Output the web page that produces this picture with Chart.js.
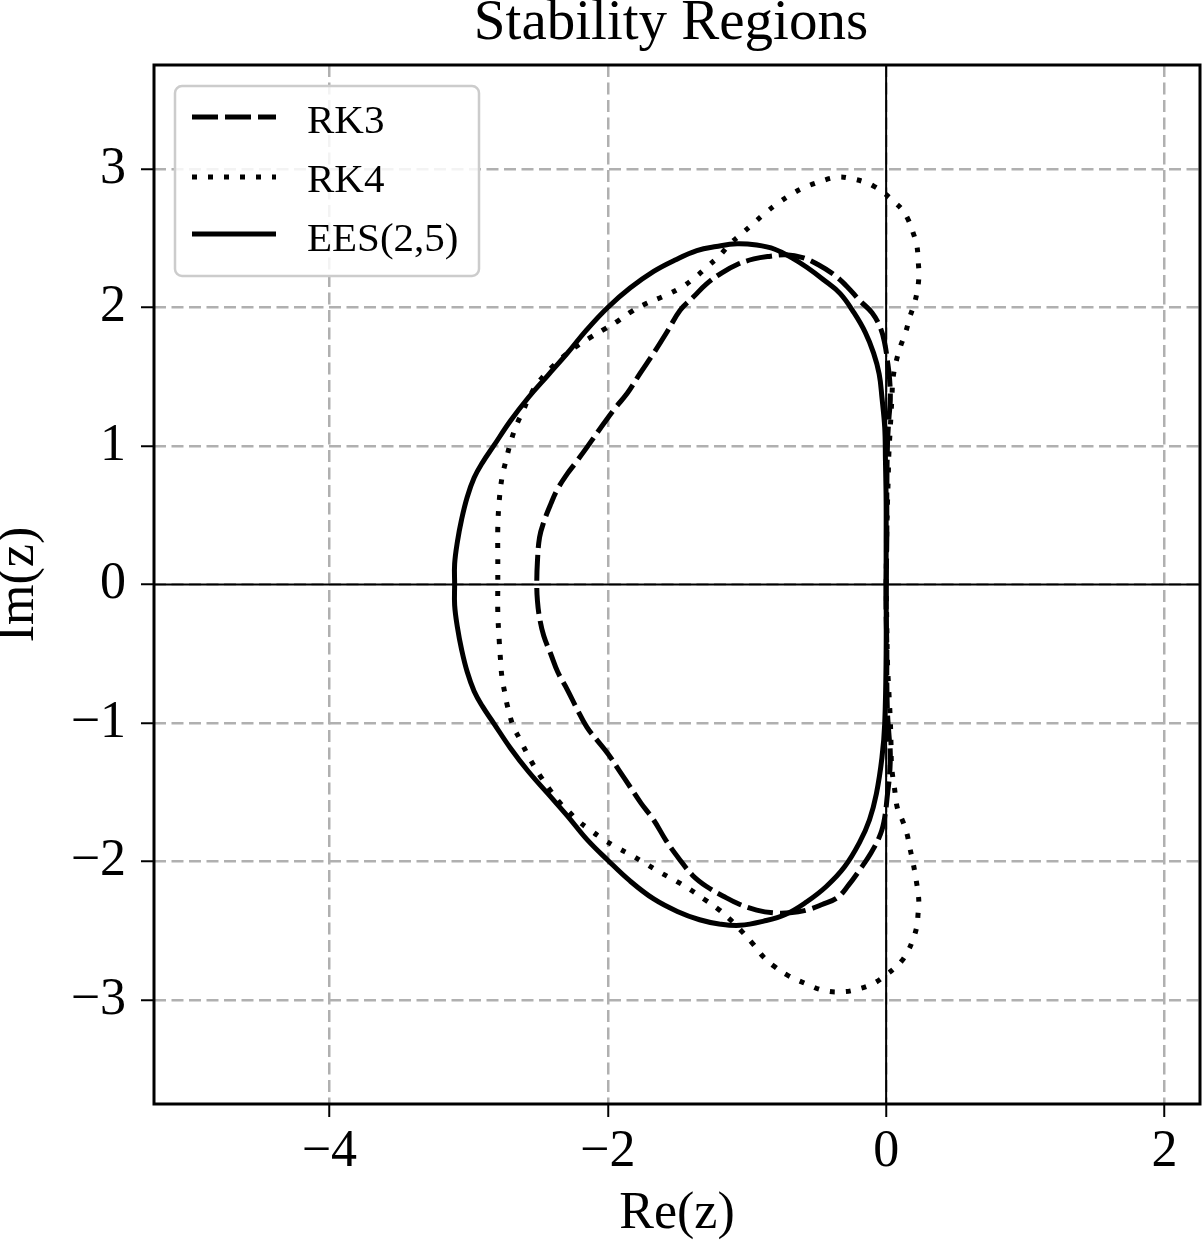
<!DOCTYPE html>
<html><head><meta charset="utf-8">
<script src="https://cdn.jsdelivr.net/npm/chart.js@4/dist/chart.umd.min.js"></script>
<style>html,body{margin:0;padding:0;background:#fff;} canvas{display:block;}</style>
</head><body>
<canvas id="c" width="1202" height="1242"></canvas>
<script>
const TITLE = 'Stability Regions';
const X_LABEL = 'Re(z)';
const Y_LABEL = 'Im(z)';
const SERIES_NAMES = ['RK3', 'RK4', 'EES(2,5)'];
const X_TICKS = [-4, -2, 0, 2];
const Y_TICKS = [-3, -2, -1, 0, 1, 2, 3];
const X_RANGE = [-5.26, 2.255];
const Y_RANGE = [-3.75, 3.75];

// [Re(z), Im(z)]
const rk3Points = [
  [0,0],[0.005,0.35],[0.005,0.66],[0.01,1.02],[0.02,1.2],[0.03,1.33],[0.025,1.48],[0.01,1.61],[-0.01,1.74],[-0.04,1.85],
  [-0.10,1.96],[-0.19,2.05],[-0.28,2.15],[-0.38,2.24],[-0.49,2.31],[-0.60,2.36],[-0.72,2.38],[-0.83,2.37],[-0.95,2.35],[-1.07,2.31],
  [-1.18,2.25],[-1.29,2.17],[-1.38,2.08],[-1.48,1.98],[-1.57,1.83],[-1.67,1.67],[-1.77,1.52],[-1.86,1.38],[-1.95,1.27],[-2.03,1.16],
  [-2.15,0.99],[-2.23,0.88],[-2.29,0.80],[-2.36,0.69],[-2.41,0.58],[-2.46,0.45],[-2.49,0.34],[-2.505,0.17],[-2.51,0],
  [-2.505,-0.12],[-2.49,-0.24],[-2.46,-0.37],[-2.41,-0.50],[-2.36,-0.63],[-2.29,-0.76],[-2.22,-0.90],[-2.15,-1.03],[-2.08,-1.12],[-2.00,-1.22],
  [-1.92,-1.34],[-1.84,-1.46],[-1.76,-1.58],[-1.67,-1.70],[-1.58,-1.85],[-1.48,-1.99],[-1.39,-2.10],[-1.29,-2.18],[-1.17,-2.25],[-1.05,-2.31],
  [-0.93,-2.35],[-0.81,-2.37],[-0.69,-2.37],[-0.57,-2.35],[-0.46,-2.31],[-0.35,-2.26],[-0.27,-2.17],[-0.19,-2.06],[-0.11,-1.94],[-0.04,-1.80],
  [-0.01,-1.68],[0.01,-1.51],[0.025,-1.37],[0.03,-1.22],[0.02,-1.08],[0.01,-0.93],[0.005,-0.7],[0.005,-0.45],[0,-0.2],[0,0]
];

const rk4Points = [
  [0,0],[0.002,0.2],[0.005,0.4],[0.01,0.6],[0.015,0.77],[0.02,0.95],[0.03,1.13],[0.04,1.32],[0.05,1.49],[0.07,1.60],
  [0.10,1.71],[0.14,1.82],[0.17,1.93],[0.20,2.02],[0.22,2.10],[0.235,2.22],[0.23,2.34],[0.22,2.45],[0.19,2.55],[0.16,2.63],
  [0.12,2.70],[0.05,2.77],[-0.02,2.83],[-0.08,2.87],[-0.14,2.90],[-0.25,2.93],[-0.35,2.94],[-0.47,2.91],[-0.60,2.86],[-0.69,2.81],
  [-0.78,2.75],[-0.87,2.68],[-0.96,2.60],[-1.04,2.53],[-1.12,2.46],[-1.20,2.37],[-1.29,2.29],[-1.38,2.21],[-1.48,2.14],[-1.60,2.08],
  [-1.72,2.03],[-1.83,1.97],[-1.93,1.90],[-2.03,1.84],[-2.13,1.78],[-2.21,1.73],[-2.29,1.67],[-2.40,1.57],[-2.49,1.47],[-2.56,1.36],
  [-2.61,1.25],[-2.66,1.14],[-2.70,1.02],[-2.73,0.90],[-2.76,0.77],[-2.78,0.60],[-2.79,0.41],[-2.79,0.2],[-2.79,0],
  [-2.79,-0.2],[-2.78,-0.40],[-2.77,-0.55],[-2.76,-0.67],[-2.74,-0.78],[-2.72,-0.88],[-2.68,-1.02],[-2.63,-1.12],[-2.58,-1.22],[-2.53,-1.31],
  [-2.48,-1.39],[-2.41,-1.49],[-2.34,-1.58],[-2.28,-1.64],[-2.22,-1.70],[-2.13,-1.77],[-2.03,-1.84],[-1.93,-1.90],[-1.82,-1.96],[-1.72,-2.02],
  [-1.62,-2.08],[-1.51,-2.14],[-1.41,-2.20],[-1.31,-2.27],[-1.21,-2.34],[-1.13,-2.41],[-1.05,-2.49],[-0.96,-2.59],[-0.88,-2.69],[-0.80,-2.76],
  [-0.71,-2.82],[-0.58,-2.88],[-0.45,-2.93],[-0.31,-2.94],[-0.20,-2.92],[-0.09,-2.88],[0.01,-2.81],[0.06,-2.77],[0.11,-2.72],[0.16,-2.64],
  [0.19,-2.57],[0.22,-2.47],[0.23,-2.37],[0.235,-2.30],[0.23,-2.23],[0.21,-2.10],[0.19,-1.99],[0.17,-1.90],[0.15,-1.80],[0.12,-1.71],
  [0.08,-1.61],[0.06,-1.47],[0.04,-1.32],[0.035,-1.15],[0.03,-0.98],[0.02,-0.78],[0.01,-0.57],[0.005,-0.3],[0,0]
];

const eesPoints = [
  [0,0],[0,0.3],[0,0.6],[-0.005,0.9],[-0.01,1.13],[-0.03,1.35],[-0.05,1.52],[-0.09,1.67],[-0.15,1.82],[-0.23,1.96],
  [-0.33,2.10],[-0.45,2.20],[-0.57,2.29],[-0.68,2.36],[-0.80,2.42],[-0.93,2.45],[-1.07,2.46],[-1.22,2.44],[-1.36,2.41],[-1.52,2.34],
  [-1.67,2.26],[-1.84,2.14],[-2.00,2.00],[-2.15,1.84],[-2.29,1.67],[-2.43,1.51],[-2.57,1.35],[-2.70,1.18],[-2.82,1.00],[-2.90,0.88],
  [-2.96,0.77],[-3.01,0.63],[-3.05,0.47],[-3.08,0.31],[-3.10,0.15],[-3.10,0],
  [-3.10,-0.15],[-3.08,-0.31],[-3.05,-0.47],[-3.01,-0.63],[-2.96,-0.77],[-2.90,-0.88],[-2.82,-1.00],[-2.70,-1.18],[-2.57,-1.35],[-2.43,-1.51],
  [-2.29,-1.67],[-2.15,-1.84],[-2.00,-1.99],[-1.84,-2.14],[-1.67,-2.27],[-1.50,-2.36],[-1.34,-2.42],[-1.20,-2.45],[-1.05,-2.46],[-0.88,-2.43],
  [-0.72,-2.38],[-0.57,-2.29],[-0.43,-2.18],[-0.30,-2.04],[-0.19,-1.86],[-0.12,-1.70],[-0.07,-1.51],[-0.03,-1.25],[-0.01,-1.00],[0,-0.5],[0,0]
];

const SERIF = "'Liberation Serif', 'Times New Roman', serif";
const toPts = pts => pts.map(p => ({x: p[0], y: p[1]}));
const fmt = v => (v < 0 ? '\u2212' + Math.abs(v) : String(v));

const overlay = {
  id: 'overlay',
  beforeDatasetsDraw(chart) {
    const {ctx, chartArea: a, scales: {x, y}} = chart;
    ctx.save();
    ctx.beginPath(); ctx.rect(a.left, a.top, a.right - a.left, a.bottom - a.top); ctx.clip();
    ctx.strokeStyle = '#000'; ctx.lineWidth = 2; ctx.setLineDash([]);
    const x0 = x.getPixelForValue(0), y0 = y.getPixelForValue(0);
    ctx.beginPath();
    ctx.moveTo(a.left, y0); ctx.lineTo(a.right, y0);
    ctx.moveTo(x0, a.top); ctx.lineTo(x0, a.bottom);
    ctx.stroke();
    ctx.restore();
  },
  afterDatasetsDraw(chart) {
    const {ctx, chartArea: a} = chart;
    ctx.save();
    ctx.strokeStyle = '#000'; ctx.lineWidth = 3; ctx.setLineDash([]);
    ctx.strokeRect(a.left, a.top, a.right - a.left, a.bottom - a.top);
    const bx = 175, by = 86, bw = 304, bh = 190;
    ctx.beginPath(); ctx.roundRect(bx, by, bw, bh, 7);
    ctx.fillStyle = 'rgba(255,255,255,0.85)'; ctx.fill();
    ctx.strokeStyle = '#cccccc'; ctx.lineWidth = 2.5; ctx.stroke();
    const rowsLine = [117, 177, 234];
    const rowsText = [133, 192, 251];
    chart.data.datasets.forEach((ds, i) => {
      ctx.strokeStyle = ds.borderColor; ctx.lineWidth = ds.borderWidth;
      ctx.setLineDash(ds.borderDash || []); ctx.lineDashOffset = 0; ctx.lineCap = 'butt';
      ctx.beginPath(); ctx.moveTo(192, rowsLine[i]); ctx.lineTo(276, rowsLine[i]); ctx.stroke();
      ctx.setLineDash([]);
      ctx.fillStyle = '#000'; ctx.font = '41px ' + SERIF;
      ctx.textAlign = 'left'; ctx.textBaseline = 'alphabetic';
      ctx.fillText(ds.label, 307, rowsText[i]);
    });
    ctx.restore();
  },
  afterDraw(chart) {
    const {ctx, chartArea: a} = chart;
    ctx.save();
    ctx.fillStyle = '#000'; ctx.font = '57px ' + SERIF;
    ctx.textAlign = 'center'; ctx.textBaseline = 'alphabetic';
    ctx.fillText(TITLE, (a.left + a.right) / 2 - 6, 39);
    ctx.restore();
  }
};

const gridCommon = {color: '#b0b0b0', lineWidth: 2.5, tickColor: '#000', tickWidth: 2, tickLength: 13, drawTicks: true};
const tickFont = {family: SERIF, size: 52};
const lineBase = {showLine: true, borderColor: '#000', borderWidth: 5, pointRadius: 0, tension: 0.4, fill: false};

new Chart(document.getElementById('c'), {
  type: 'scatter',
  data: {
    datasets: [
      Object.assign({label: SERIES_NAMES[0], data: toPts(rk3Points), borderDash: [26, 7]}, lineBase),
      Object.assign({label: SERIES_NAMES[1], data: toPts(rk4Points), borderDash: [5, 11]}, lineBase),
      Object.assign({label: SERIES_NAMES[2], data: toPts(eesPoints)}, lineBase)
    ]
  },
  options: {
    responsive: false,
    animation: false,
    devicePixelRatio: 1,
    layout: {padding: {left: 0, right: 2, top: 65, bottom: 0}},
    plugins: {legend: {display: false}, title: {display: false, text: TITLE}, tooltip: {enabled: false}},
    scales: {
      x: {
        type: 'linear', min: X_RANGE[0], max: X_RANGE[1],
        afterBuildTicks: s => { s.ticks = X_TICKS.map(v => ({value: v})); },
        afterFit: s => { s.height = 138; },
        grid: gridCommon,
        border: {display: false, dash: [12, 5.5]},
        ticks: {font: tickFont, color: '#000', padding: 4, maxRotation: 0, callback: v => fmt(v)},
        title: {display: true, text: X_LABEL, color: '#000', font: {family: SERIF, size: 52, lineHeight: 1.0}, padding: {top: 0, bottom: 1.5}}
      },
      y: {
        type: 'linear', min: Y_RANGE[0], max: Y_RANGE[1],
        afterBuildTicks: s => { s.ticks = Y_TICKS.map(v => ({value: v})); },
        afterFit: s => { s.width = 154; },
        grid: gridCommon,
        border: {display: false, dash: [12, 5.5]},
        ticks: {font: tickFont, color: '#000', padding: 15, callback: v => fmt(v)},
        title: {display: true, text: Y_LABEL, color: '#000', font: {family: SERIF, size: 52, lineHeight: 0.75}, padding: {top: 0, bottom: 0}}
      }
    }
  },
  plugins: [overlay]
});
</script>
</body></html>
